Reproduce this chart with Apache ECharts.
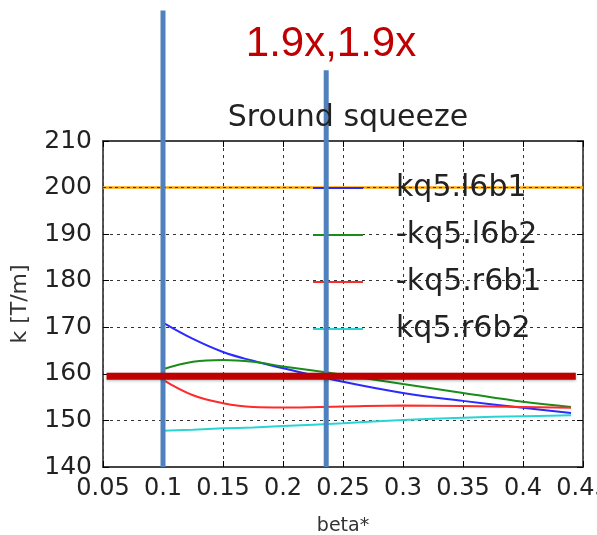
<!DOCTYPE html>
<html><head><meta charset="utf-8">
<script src="https://cdn.jsdelivr.net/npm/echarts@6/dist/echarts.min.js"></script>
<style>html,body{margin:0;padding:0;background:#fff}#c{width:597px;height:535px}</style>
</head><body><div id="c"></div>
<script>
const betaX = [0.1, 0.125, 0.15, 0.175, 0.2, 0.25, 0.3, 0.35, 0.4, 0.44];
const kq5_l6b1 = [171.0, 167.5, 164.7, 162.8, 161.2, 158.3, 155.9, 154.2, 152.7, 151.6];
const neg_kq5_l6b2 = [161.0, 162.6, 163.0, 162.6, 161.6, 159.8, 157.8, 155.9, 154.0, 152.9];
const neg_kq5_r6b1 = [158.7, 155.4, 153.7, 152.9, 152.8, 153.0, 153.2, 153.1, 152.9, 152.7];
const kq5_r6b2 = [147.8, 148.0, 148.3, 148.5, 148.8, 149.4, 150.1, 150.6, 150.9, 151.1];
const seriesNames = ['kq5.l6b1', '-kq5.l6b2', '-kq5.r6b1', 'kq5.r6b2'];
const seriesColors = ['#2a2aff', '#1a8c1a', '#ff2a2a', '#2ad4d4'];
const limitK = 200;            // orange reference line
const targetK = 159.5;         // dark red annotation line
const markBeta = [0.1, 0.236]; // blue vertical annotation lines
const markTop = [238, 225.2];
const xTicks = {min: 0.05, max: 0.45, interval: 0.05};
const yTicks = {min: 140, max: 210, interval: 10};

const pairs = ys => betaX.map((x, i) => [x, ys[i]]);
const allData = [kq5_l6b1, neg_kq5_l6b2, neg_kq5_r6b1, kq5_r6b2];
const FONT = 'DejaVu Sans';
const grid = {left: 103, right: 14, top: 141, bottom: 68, containLabel: false, outerBoundsMode: 'none'};
const tickStyle = {show: true, inside: true, length: 6, lineStyle: {color: '#000', width: 1}};
const axisLineStyle = {show: true, lineStyle: {color: '#444', width: 1.8}};

const series = allData.map((d, i) => ({
  name: seriesNames[i], type: 'line', data: pairs(d), smooth: 0.4, symbol: 'none',
  lineStyle: {color: seriesColors[i], width: 2}, itemStyle: {color: seriesColors[i]}, z: 3
}));
series.push({
  name: 'limit', type: 'line', symbol: 'none', silent: true,
  data: [[xTicks.min, limitK], [xTicks.max, limitK]],
  lineStyle: {color: '#ffa500', width: 2.5}, z: 2
});
series.push({
  name: 'limitDash', type: 'line', symbol: 'none', silent: true,
  data: [[xTicks.min, limitK], [xTicks.max, limitK]],
  lineStyle: {color: '#333', width: 1, type: [3, 3]}, z: 2
});
markBeta.forEach((b, i) => series.push({
  name: 'vline' + i, type: 'line', symbol: 'none', silent: true, clip: false,
  data: [[b, yTicks.min], [b, markTop[i]]],
  lineStyle: {color: '#4f81bd', width: 5}, z: 5
}));
series.push({
  name: 'hline', type: 'line', symbol: 'none', silent: true, clip: false,
  data: [[0.053, targetK], [0.444, targetK]],
  lineStyle: {color: '#c00000', width: 7, shadowColor: 'rgba(0,0,0,0.3)', shadowBlur: 3, shadowOffsetY: 1}, z: 6
});

const chart = echarts.init(document.getElementById('c'), null, {renderer: 'canvas'});
chart.setOption({
  animation: false,
  backgroundColor: '#fff',
  title: [
    {text: 'Sround squeeze', left: 343, top: 98, textAlign: 'center',
     textStyle: {fontFamily: FONT, fontSize: 30, fontWeight: 'normal', color: '#222'}},
    {text: '1.9x,1.9x', left: 326, top: 18, textAlign: 'center',
     textStyle: {fontFamily: 'Liberation Sans', fontSize: 42, fontWeight: 'normal', color: '#c00000'}}
  ],
  legend: {
    data: seriesNames.map(n => ({name: n, icon: 'rect'})),
    orient: 'vertical', left: 313, top: 173, padding: 0,
    itemWidth: 50, itemHeight: 2, itemGap: 17,
    textStyle: {fontFamily: FONT, fontSize: 30, lineHeight: 30, color: '#222', padding: [0, 0, 0, 28]}
  },
  grid: grid,
  xAxis: [
    {type: 'value', min: xTicks.min, max: xTicks.max, interval: xTicks.interval,
     name: 'beta*', nameLocation: 'middle', nameGap: 50,
     nameTextStyle: {fontFamily: FONT, fontSize: 19, color: '#333'},
     axisLine: axisLineStyle, axisTick: tickStyle,
     axisLabel: {fontFamily: FONT, fontSize: 24, color: '#222', margin: 10,
       formatter: v => String(+v.toFixed(2))},
     splitLine: {show: true, lineStyle: {color: '#333', type: [3, 4], width: 1}}},
    {type: 'value', position: 'top', min: xTicks.min, max: xTicks.max, interval: xTicks.interval,
     axisLine: axisLineStyle, axisTick: tickStyle, axisLabel: {show: false}, splitLine: {show: false}}
  ],
  yAxis: [
    {type: 'value', min: yTicks.min, max: yTicks.max, interval: yTicks.interval,
     name: 'k [T/m]', nameLocation: 'middle', nameGap: 72,
     nameTextStyle: {fontFamily: FONT, fontSize: 22, color: '#333'},
     axisLine: axisLineStyle, axisTick: tickStyle,
     axisLabel: {fontFamily: FONT, fontSize: 25, color: '#222', margin: 11},
     splitLine: {show: true, lineStyle: {color: '#333', type: [3, 4], width: 1}}},
    {type: 'value', position: 'right', min: yTicks.min, max: yTicks.max, interval: yTicks.interval,
     axisLine: axisLineStyle, axisTick: tickStyle, axisLabel: {show: false}, splitLine: {show: false}}
  ],
  series: series
});
</script></body></html>
